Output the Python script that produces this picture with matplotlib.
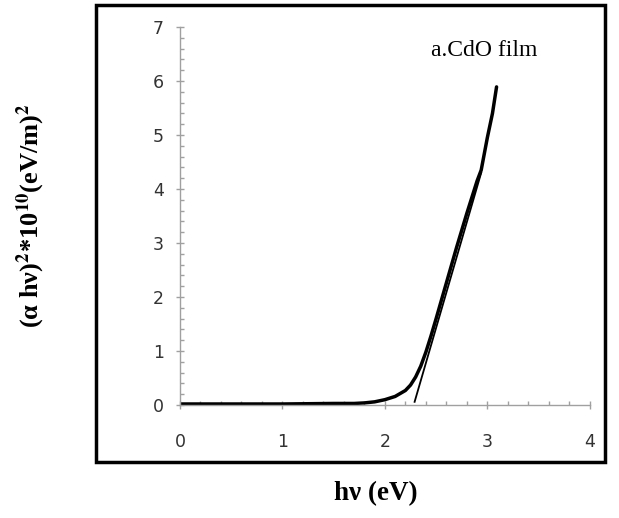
import matplotlib
matplotlib.use('Agg')
import matplotlib.pyplot as plt
from matplotlib.patches import Rectangle
from matplotlib.ticker import MultipleLocator

# curve values
hv = [0.0, 0.5, 1.0, 1.5, 1.7, 1.8, 1.9, 2.0, 2.1, 2.2, 2.25, 2.3, 2.35, 2.4,
      2.45, 2.5, 2.6, 2.7, 2.8, 2.9, 2.94, 3.0, 3.05, 3.09]
ahv2 = [0.02, 0.02, 0.02, 0.03, 0.03, 0.04, 0.06, 0.1, 0.16, 0.27, 0.37, 0.52,
        0.72, 0.98, 1.28, 1.6, 2.26, 2.92, 3.55, 4.15, 4.35, 4.95, 5.4, 5.89]

# tangent line (band gap extrapolation)
tan_x = [2.29, 2.94]
tan_y = [0.06, 4.30]

plt.rcParams['mathtext.fontset'] = 'stix'

fig = plt.figure(figsize=(6.19, 5.18), dpi=100)
ax = fig.add_axes([0.2908, 0.218, 0.662, 0.730])

# outer frame
fig.patches.append(Rectangle((0.155, 0.108), 0.822, 0.882, transform=fig.transFigure,
                             fill=False, edgecolor='black', linewidth=2.5))

ax.plot(hv, ahv2, color='black', linewidth=2.5, solid_capstyle='round')
ax.plot(tan_x, tan_y, color='black', linewidth=1.3)

ax.set_xlim(0, 4)
ax.set_ylim(0, 7)
ax.xaxis.set_major_locator(MultipleLocator(1))
ax.xaxis.set_minor_locator(MultipleLocator(0.2))
ax.yaxis.set_major_locator(MultipleLocator(1))
ax.yaxis.set_minor_locator(MultipleLocator(0.2))

for s in ['top', 'right']:
    ax.spines[s].set_visible(False)
for s in ['left', 'bottom']:
    ax.spines[s].set_color('#a0a0a0')
    ax.spines[s].set_linewidth(1.0)

ax.tick_params(which='major', direction='inout', length=6, width=1, color='#a0a0a0',
               labelsize=12.5, labelcolor='#333333')
ax.tick_params(axis='x', which='major', pad=17)
ax.tick_params(axis='y', which='major', pad=8.5)
ax.tick_params(which='minor', direction='in', length=3, width=1, color='#a0a0a0')
for lab in ax.get_xticklabels() + ax.get_yticklabels():
    lab.set_family(['Liberation Sans Narrow', 'DejaVu Sans'])

ax.text(2.97, 6.57, 'a.CdO film', family='Liberation Serif', fontsize=17,
        ha='center', va='center')

fig.text(0.607, 0.048, 'hν (eV)', family='Liberation Serif', fontweight='bold',
         fontsize=19.5, ha='center', va='center')
fig.text(0.050, 0.583, r'(α hν)$^\mathbf{2}$*10$^\mathbf{10}$(eV/m)$^\mathbf{2}$',
         family='Liberation Serif', fontweight='bold', fontsize=19,
         rotation=90, ha='center', va='center')

fig.savefig('out.png', dpi=100)
